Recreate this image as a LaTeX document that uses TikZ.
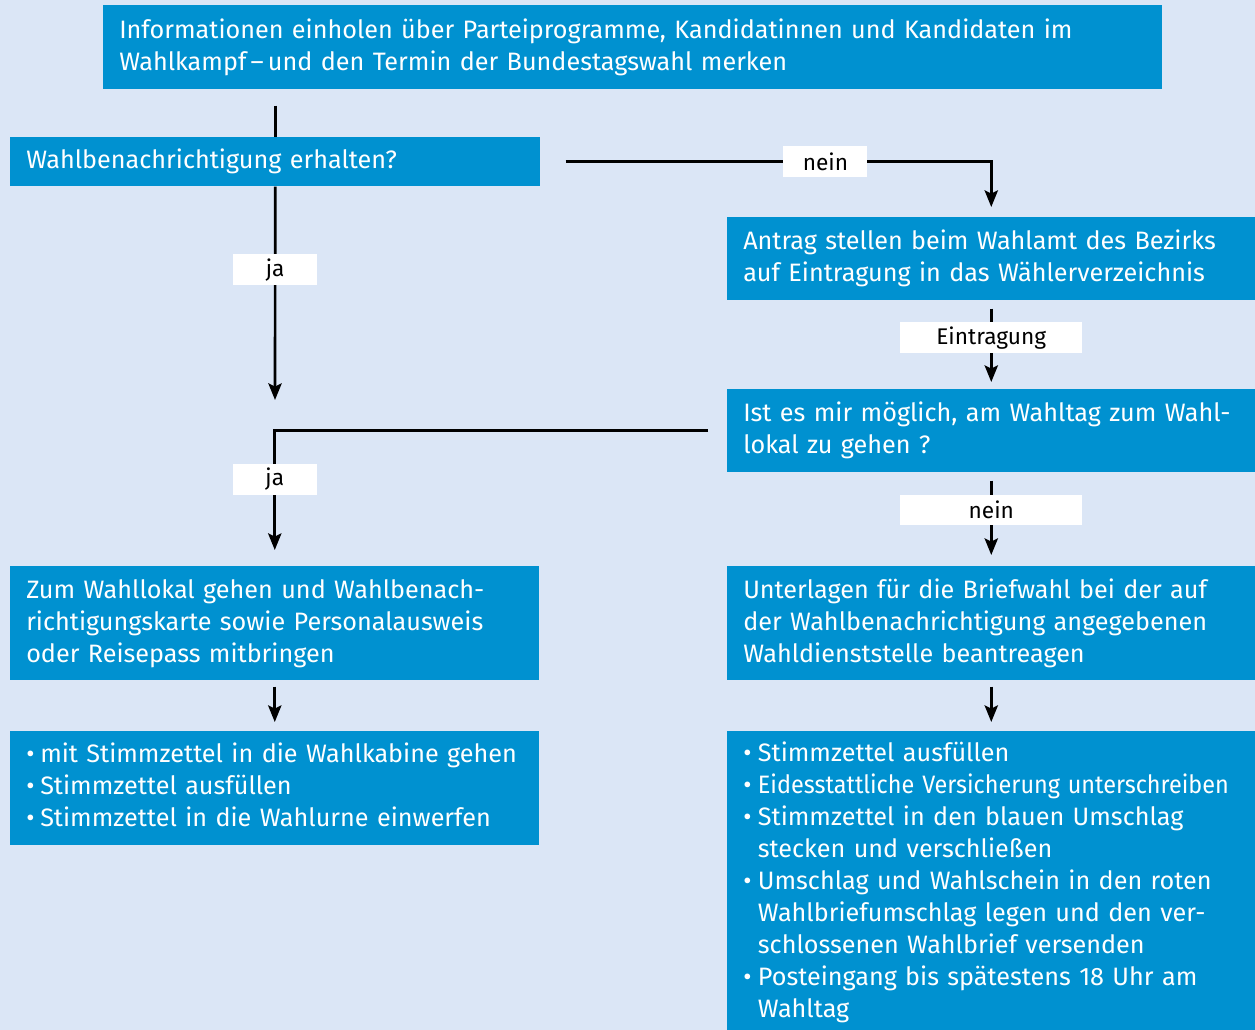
\documentclass[tikz,border=0pt]{standalone}
\usepackage{fontspec}
\usepackage{graphicx}
\setmainfont{Fira Sans}
\usetikzlibrary{arrows.meta}
\definecolor{WahlBlau}{RGB}{0,145,208}
\definecolor{WahlHell}{RGB}{219,230,246}

\begin{document}
\begin{tikzpicture}[x=0.75pt, y=-0.75pt,
  box/.style={fill=WahlBlau, text=white, anchor=north west, align=left,
    inner xsep=12pt, inner ysep=0pt, font=\fontsize{18.9}{24}\selectfont},
  lbl/.style={fill=white, text=black, inner sep=0pt, minimum height=23pt,
    font=\fontsize{17}{18}\selectfont},
  linie/.style={line width=2pt},
  pfeil/.style={linie, -{Stealth[length=12.5pt, width=10pt, inset=2.5pt]}}]
  %% 1. Background
  \fill[WahlHell] (0,0) rectangle (1255,1030);
  \useasboundingbox (0,0) rectangle (1255,1030);
  %% 2. Boxes
  \node[box, text width=770.25pt, minimum height=63pt] (info) at (103,5)
    {Informationen einholen über Parteiprogramme, Kandidatinnen und Kandidaten im\\
     Wahlkampf\,–\,und den Termin der Bundestagswahl merken};
  \node[box, text width=373.5pt, minimum height=36.75pt] (frage) at (10,137)
    {Wahlbenachrichtigung erhalten?};
  \node[box, text width=372pt, minimum height=62.25pt] (antrag) at (727,217)
    {Antrag stellen beim Wahlamt des Bezirks\\auf Eintragung in das Wählerverzeichnis};
  \node[box, text width=372pt, minimum height=62.25pt] (moeglich) at (727,389)
    {Ist es mir möglich, am Wahltag zum Wahl-\\lokal zu gehen ?};
  \node[box, text width=372.75pt, minimum height=85.5pt] (lokal) at (10,566)
    {Zum Wahllokal gehen und Wahlbenach-\\richtigungskarte sowie Personalausweis\\oder Reisepass mitbringen};
  \node[box, text width=372pt, minimum height=85.5pt] (brief) at (727,566)
    {Unterlagen für die Briefwahl bei der auf\\der Wahlbenachrichtigung angegebenen\\Wahldienststelle beantreagen};
  \node[box, text width=372.75pt, minimum height=85.5pt] (urne) at (10,731)
    {\begin{tabular}{@{}p{10.5pt}@{}l@{}}
     • & mit Stimmzettel in die Wahlkabine gehen\\
     • & Stimmzettel ausfüllen\\
     • & Stimmzettel in die Wahlurne einwerfen
     \end{tabular}};
  \node[box, text width=372pt, minimum height=228pt] (versand) at (727,731)
    {\begin{tabular}{@{}p{11pt}@{}l@{}}
     • & Stimmzettel ausfüllen\\
     • & \scalebox{0.93}[1]{Eidesstattliche Versicherung unterschreiben}\\
     • & Stimmzettel in den blauen Umschlag\\
       & stecken und verschließen\\
     • & Umschlag und Wahlschein in den roten\\
       & Wahlbriefumschlag legen und den ver-\\
       & schlossenen Wahlbrief versenden\\
     • & Posteingang bis spätestens 18 Uhr am\\
       & Wahltag
     \end{tabular}};
  %% 3. Connectors
  \coordinate (ja1) at (275,400);
  \draw[linie, shorten <=12pt] (frage.north |- info.south) -- (frage.north);
  \draw[pfeil] (frage.south) -- node[lbl, minimum width=63pt, pos=0.39] {ja} (ja1);
  \draw[pfeil, shorten <=18.75pt, shorten >=7.5pt] (frage.east)
    -| node[lbl, minimum width=63pt, pos=0.316] {nein} (antrag.north);
  \draw[pfeil, shorten <=6pt, shorten >=5.25pt] (antrag)
    -- node[lbl, minimum width=136.5pt, pos=0.42] {Eintragung} (moeglich);
  \draw[pfeil, shorten <=6pt, shorten >=8.25pt] (moeglich)
    -- node[lbl, minimum width=136.5pt, pos=0.40] {nein} (brief);
  \draw[pfeil, shorten <=14.25pt, shorten >=12pt] (moeglich.west)
    -| node[lbl, minimum width=63pt, pos=0.68] {ja} (lokal.north);
  \draw[pfeil, shorten <=4.5pt, shorten >=6.75pt] (lokal) -- (urne);
  \draw[pfeil, shorten <=4.5pt, shorten >=6.75pt] (brief) -- (versand);
\end{tikzpicture}
\end{document}
